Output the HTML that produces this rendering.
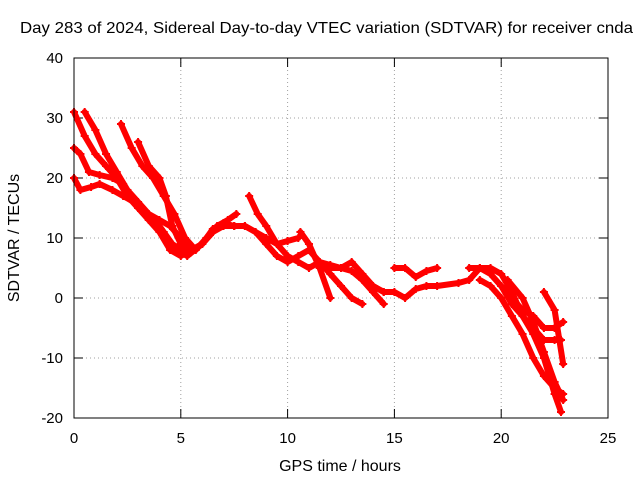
<!DOCTYPE html>
<html><head><meta charset="utf-8"><style>
body{margin:0;background:#fff}
svg text{font-family:"Liberation Sans",sans-serif;font-size:15px;fill:#000}
</style></head><body>
<svg id="c" width="640" height="480">
<text x="20" y="33" textLength="613" lengthAdjust="spacingAndGlyphs" style="font-size:16px">Day 283 of 2024, Sidereal Day-to-day VTEC variation (SDTVAR) for receiver cnda</text>
<text x="340" y="471" text-anchor="middle" style="font-size:16px">GPS time / hours</text>
<text transform="translate(19,238) rotate(-90)" text-anchor="middle" style="font-size:16px">SDTVAR / TECUs</text>
<g id="grid"></g><g id="marks"></g>
<rect x="74" y="58" width="534" height="360" fill="none" stroke="#000"/>
</svg>
<script>
const xTicks=[0,5,10,15,20,25];
const yTicks=[-20,-10,0,10,20,30,40];
const s1=[[0,31],[0.5,27],[1,24],[1.5,22],[2,20],[2.5,17],[3,15],[3.5,13],[4,11],[4.5,8],[5,7],[5.5,8],[6,9],[6.5,11],[7,12.5],[7.5,12]];
const s2=[[0,25],[0.3,24],[0.7,21],[1.2,20.5],[1.8,20],[2.3,19],[2.8,16],[3.3,14],[3.8,13],[4.2,11],[4.6,9],[5,8],[5.5,8]];
const s3=[[0,20],[0.3,18],[0.8,18.5],[1.2,19],[1.8,18],[2.3,17],[2.8,16],[3.3,14],[3.8,12],[4.3,10],[4.8,8],[5.3,7],[6,9],[6.5,11],[7,12]];
const s4=[[0.5,31],[1,28],[1.5,24],[2,21],[2.5,18],[3,16],[3.5,14],[4,13],[4.5,12],[5,10],[5.5,8]];
const s5=[[2.2,29],[2.7,25],[3.2,22],[3.7,20],[4.2,17],[4.7,14],[5.2,10],[5.7,8],[6.2,10],[6.7,12],[7.2,13],[7.6,14]];
const s6=[[3,26],[3.5,22],[4,20],[4.3,17],[4.6,12],[5,9],[5.5,8],[6,9],[6.5,11.5],[7,12],[7.5,12],[8,12],[8.5,11],[9,10],[9.5,9],[10,9.5],[10.5,10]];
const s7=[[8.2,17],[8.6,14],[9,12],[9.5,9],[10,7],[10.5,6],[11,5],[11.5,6],[12,5.5],[12.5,5],[13,4.5],[13.5,3],[14,1],[14.5,-1]];
const s8=[[7.5,12],[8,12],[8.5,11],[9,9],[9.5,7],[10,6],[10.5,7],[11,8],[11.5,6],[12,4],[12.5,2],[13,0],[13.5,-1]];
const s9=[[10.6,11],[11,9],[11.5,5],[12,0]];
const s10=[[11.5,6],[12,5],[12.5,5],[13,6],[13.5,4],[14,2],[14.5,1]];
const s11=[[15,5],[15.5,5],[16,3.5],[16.5,4.5],[17,5]];
const s12=[[14,2],[14.5,1],[15,1],[15.5,0],[16,1.5],[16.5,2],[17,2],[18,2.5],[18.5,3],[19,5],[19.5,5],[20,4],[20.5,1],[21,-3],[21.5,-6],[22,-10],[22.5,-16],[22.8,-19]];
const s13=[[18.5,5],[19,5],[19.5,4],[20,2],[20.5,-1],[21,-3],[21.5,-5],[22,-7],[22.5,-7],[22.8,-7]];
const s14=[[19,3],[19.5,2],[20,0],[20.5,-3],[21,-6],[21.5,-10],[22,-13],[22.5,-15],[22.9,-16]];
const s15=[[20,2],[20.5,0],[21,-2],[21.5,-3],[22,-5],[22.5,-5],[22.9,-4]];
const s16=[[22,1],[22.5,-2],[22.9,-11]];
const s17=[[20.3,3],[21,0],[21.5,-4],[22,-9],[22.5,-14],[22.9,-17]];
const series=[s1,s2,s3,s4,s5,s6,s7,s8,s9,s10,s11,s12,s13,s14,s15,s16,s17];
const X=v=>74+v*534/25, Y=v=>418-(v+20)*6;
const NS="http://www.w3.org/2000/svg";
const g=document.getElementById('grid'), m=document.getElementById('marks');
function mk(tag,at,p){const e=document.createElementNS(NS,tag);for(const k in at)e.setAttribute(k,at[k]);p.appendChild(e);return e;}
xTicks.forEach(t=>{const x=X(t);
 if(t>0&&t<25){const l=mk('line',{x1:x,x2:x,y1:58,y2:418,stroke:'#a0a0a0','stroke-dasharray':'1,3'},g);
 
 }
 mk('line',{x1:x,x2:x,y1:418,y2:409,stroke:'#000'},g);mk('line',{x1:x,x2:x,y1:58,y2:67,stroke:'#000'},g);
 const tx=mk('text',{x:x,y:443,'text-anchor':'middle'},g);tx.textContent=t;
 
 });
yTicks.forEach(t=>{const y=Y(t);
 if(t>-20&&t<40){const l=mk('line',{x1:74,x2:608,y1:y,y2:y,stroke:'#a0a0a0','stroke-dasharray':'1,3'},g);
 
 }
 mk('line',{x1:74,x2:83,y1:y,y2:y,stroke:'#000'},g);mk('line',{x1:608,x2:599,y1:y,y2:y,stroke:'#000'},g);
 const tx=mk('text',{x:63,y:y+5,'text-anchor':'end'},g);tx.textContent=t;
 
 });
series.forEach((s,i)=>{
 const p=mk('polyline',{points:s.map(d=>X(d[0])+','+Y(d[1])).join(' '),fill:'none',stroke:'#f00','stroke-width':6,'stroke-linejoin':'round','stroke-linecap':'round'},m);
 
 
 s.forEach(d=>{const x=X(d[0]),y=Y(d[1]);
  const q=mk('path',{d:`M${x-4},${y}h8M${x},${y-4}v8`,stroke:'#f00','stroke-width':2},m);
  
  });
});
</script>
</body></html>
